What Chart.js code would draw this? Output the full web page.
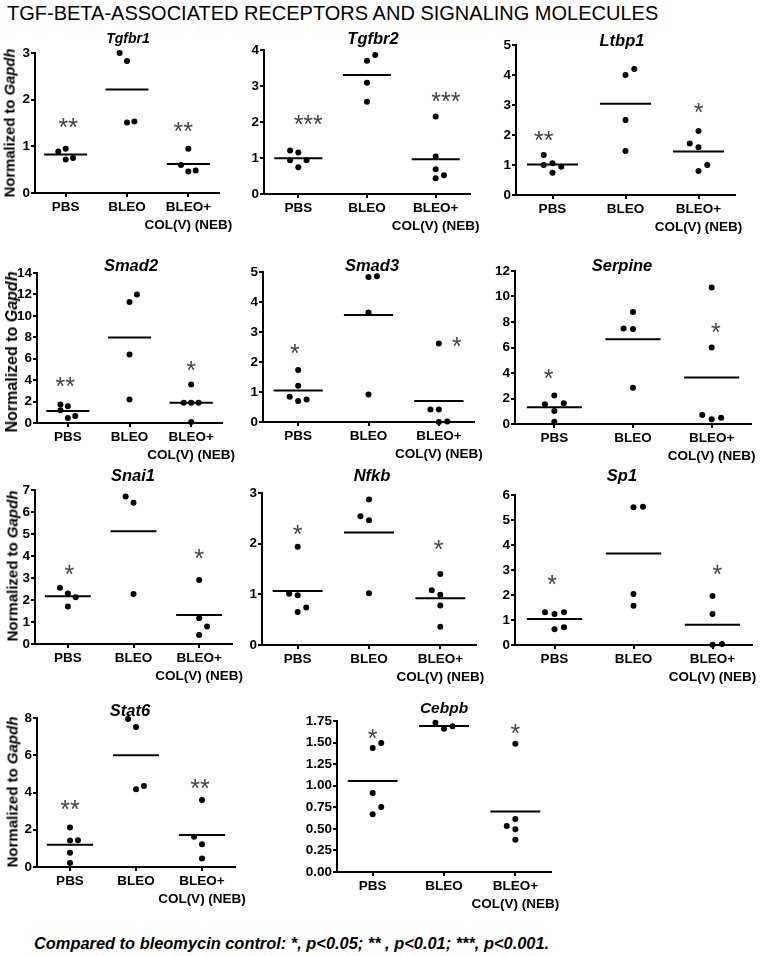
<!DOCTYPE html>
<html>
<head>
<meta charset="utf-8">
<title>TGF-beta associated receptors and signaling molecules</title>
<script src="https://cdn.jsdelivr.net/npm/chart.js@4.4.1/dist/chart.umd.min.js"></script>
<style>
  html, body { margin: 0; padding: 0; background: #fff; }
  body { position: relative; width: 776px; height: 956px; overflow: hidden;
         font-family: "Liberation Sans", Arial, sans-serif; color: #000; }
  canvas { position: absolute; }
  .txt { position: absolute; white-space: nowrap; line-height: 1; }
  #page-title { left: 7px; top: 2.5px; font-size: 20px; }
  .gene { font-weight: bold; font-style: italic; transform: translate(-50%, -50%); }
  .ylab { font-weight: bold; transform: translate(-50%, -50%) rotate(-90deg); }
  #note { left: 34px; top: 943px; font-weight: bold; font-style: italic; font-size: 16.4px; transform: translateY(-50%); }
</style>
</head>
<body>
<div id="page-title" class="txt">TGF-BETA-ASSOCIATED RECEPTORS AND SIGNALING MOLECULES</div>
<div id="note" class="txt">Compared to bleomycin control: *, p&lt;0.05; ** , p&lt;0.01; ***, p&lt;0.001.</div>
<script>
const FONT = '"Liberation Sans", Arial, sans-serif';
const groups = ['PBS', 'BLEO', ['BLEO+', 'COL(V) (NEB)']];

// values per group (PBS, BLEO, BLEO+COL(V)), dot side-shift in steps, significance marks
const tgfbr1 = [[0.89, 0.95, 0.72, 0.75], [3.00, 2.83, 1.51, 1.53], [0.95, 0.60, 0.46, 0.48]];
const tgfbr1Jitter = [[-1, 0, 0, 1], [-1, 0, 0, 1], [0, -1, 0, 1]];
const tgfbr1Stars = ['**', '', '**'];
const tgfbr1StarY = [1.53, null, 1.44];
const tgfbr1Ticks = [0, 1, 2, 3];

const tgfbr2 = [[1.21, 1.15, 0.94, 0.94, 0.74], [3.86, 3.70, 3.09, 2.56], [2.15, 1.04, 0.69, 0.44, 0.52]];
const tgfbr2Jitter = [[-1, 0, -1, 1, 0], [1, 0, 0, 0], [0, 0, 0, 0, 1]];
const tgfbr2Stars = ['***', '', '***'];
const tgfbr2StarY = [2.08, null, 2.72];
const tgfbr2Ticks = [0, 1, 2, 3, 4];

const ltbp1 = [[1.33, 1.00, 1.06, 0.94, 0.74], [4.00, 4.20, 2.50, 1.47], [2.13, 1.72, 1.59, 1.00, 0.80]];
const ltbp1Jitter = [[-1, -1, 0, 1, 0], [0, 1, 0, 0], [0, -1, 0, 1, 0]];
const ltbp1Stars = ['**', '', '*'];
const ltbp1StarY = [2.02, null, 2.94];
const ltbp1Ticks = [0, 1, 2, 3, 4, 5];

const smad2 = [[1.72, 1.56, 1.19, 0.47, 0.66], [11.3, 12.0, 6.4, 2.2], [3.6, 1.9, 1.9, 1.9, 0.1]];
const smad2Jitter = [[-1, 0, -1, 0, 1], [0, 1, 0, 0], [0, -1, 0, 1, 0]];
const smad2Stars = ['**', '', '*'];
const smad2StarY = [3.94, null, 5.47];
const smad2Ticks = [0, 2, 4, 6, 8, 10, 12, 14];

const smad3 = [[1.73, 1.21, 0.84, 0.70, 0.75], [4.83, 4.86, 3.65, 0.92], [2.62, 0.42, 0.42, 0.00, 0.02]];
const smad3Jitter = [[0, 0, -1, 0, 1], [0, 1, 0, 0], [0, -1, 0, 0, 1]];
const smad3Stars = ['*', '', '*'];
const smad3StarY = [2.48, null, 2.70];
const smad3Ticks = [0, 1, 2, 3, 4, 5];

const serpine = [[2.24, 1.54, 1.62, 1.02, 0.18], [8.79, 7.49, 7.46, 2.84], [10.7, 6.0, 0.70, 0.37, 0.50]];
const serpineJitter = [[0, -1, 1, 0, 0], [0, -1, 0, 0], [0, 0, -1, 0, 1]];
const serpineStars = ['*', '', '*'];
const serpineStarY = [4.02, null, 7.62];
const serpineTicks = [0, 2, 4, 6, 8, 10, 12];

const snai1 = [[2.56, 2.30, 2.12, 1.70], [6.70, 6.42, 2.27], [2.91, 1.17, 0.79, 0.41]];
const snai1Jitter = [[-1, 0, 1, 0], [-1, 0, 0], [0, 0, 1, 0]];
const snai1Stars = ['*', '', '*'];
const snai1StarY = [3.44, null, 4.17];
const snai1Ticks = [0, 1, 2, 3, 4, 5, 6, 7];

const nfkb = [[1.94, 1.01, 0.98, 0.74, 0.65], [2.87, 2.54, 2.46, 1.02], [1.40, 1.08, 0.99, 0.78, 0.36]];
const nfkbJitter = [[0, -1, 0, 1, 0], [0, -1, 0, 0], [0, -1, 0, 0, 0]];
const nfkbStars = ['*', '', '*'];
const nfkbStarY = [2.29, null, 2.00];
const nfkbTicks = [0, 1, 2, 3];

const sp1 = [[1.31, 1.24, 1.31, 0.63, 0.71], [5.51, 5.53, 2.04, 1.57], [1.96, 1.24, 0.01, 0.04]];
const sp1Jitter = [[-1, 0, 1, 0, 1], [0, 1, 0, 0], [0, 0, 0, 1]];
const sp1Stars = ['*', '', '*'];
const sp1StarY = [2.64, null, 3.07];
const sp1Ticks = [0, 1, 2, 3, 4, 5, 6];

const stat6 = [[2.12, 1.42, 1.44, 0.76, 0.22], [7.95, 7.52, 4.17, 4.35], [3.60, 1.62, 1.22, 0.45]];
const stat6Jitter = [[0, 0, 1, 0, 0], [-1, 0, 0, 1], [0, -1, 0, 0]];
const stat6Stars = ['**', '', '**'];
const stat6StarY = [3.38, null, 4.53];
const stat6Ticks = [0, 2, 4, 6, 8];

const cebpb = [[1.437, 1.495, 0.915, 0.753, 0.668], [1.73, 1.66, 1.69], [1.487, 0.614, 0.533, 0.494, 0.375]];
const cebpbJitter = [[0, 1, 0, 1, 0], [-1, 0, 1], [0, 0, -1, 0, 0]];
const cebpbStars = ['*', '', '*'];
const cebpbStarY = [1.61, null, 1.67];
const cebpbTicks = ['0.00', '0.25', '0.50', '0.75', '1.00', '1.25', '1.50', '1.75'];

const JITTER = 0.12;     // one side-step, in category widths
const HALF_MEAN = 0.35;  // half length of the mean bar
const STAR_SIZE = 25;

// plot area boxes [left, top, right, bottom] on the page, title centre + size, y label
const panels = [
  { gene: 'Tgfbr1', vals: tgfbr1, jit: tgfbr1Jitter, stars: tgfbr1Stars, starY: tgfbr1StarY, ticks: tgfbr1Ticks,
    starDx: [0.35, 0, -0.7], box: [35, 53, 219, 193], title: [128, 38, 14], ylab: [10, 123, 14.8] },
  { gene: 'Tgfbr2', vals: tgfbr2, jit: tgfbr2Jitter, stars: tgfbr2Stars, starY: tgfbr2StarY, ticks: tgfbr2Ticks,
    starDx: [1.2, 0, 1.25], box: [264, 50, 470, 194], title: [373, 38, 16.5] },
  { gene: 'Ltbp1', vals: ltbp1, jit: ltbp1Jitter, stars: ltbp1Stars, starY: ltbp1StarY, ticks: ltbp1Ticks,
    starDx: [-1, 0, 0], box: [516, 45, 735, 195], title: [622, 40, 16.5] },
  { gene: 'Smad2', vals: smad2, jit: smad2Jitter, stars: smad2Stars, starY: smad2StarY, ticks: smad2Ticks,
    starDx: [-0.35, 0, 0], box: [37, 273, 222, 423], title: [131, 265, 16.5], ylab: [12, 352, 16] },
  { gene: 'Smad3', vals: smad3, jit: smad3Jitter, stars: smad3Stars, starY: smad3StarY, ticks: smad3Ticks,
    starDx: [-0.4, 0, 2.15], box: [263, 272, 474, 422], title: [372, 265, 16.5] },
  { gene: 'Serpine', vals: serpine, jit: serpineJitter, stars: serpineStars, starY: serpineStarY, ticks: serpineTicks,
    starDx: [-0.6, 0, 0.45], box: [515, 271, 751, 424], title: [622, 265, 16.5] },
  { gene: 'Snai1', vals: snai1, jit: snai1Jitter, stars: snai1Stars, starY: snai1StarY, ticks: snai1Ticks,
    starDx: [0.2, 0, 0], box: [35, 490, 232, 644], title: [133, 475, 16.5], ylab: [12, 566, 15] },
  { gene: 'Nfkb', vals: nfkb, jit: nfkbJitter, stars: nfkbStars, starY: nfkbStarY, ticks: nfkbTicks,
    starDx: [0, 0, -0.2], box: [262, 493, 476, 645], title: [372, 475, 16.5] },
  { gene: 'Sp1', vals: sp1, jit: sp1Jitter, stars: sp1Stars, starY: sp1StarY, ticks: sp1Ticks,
    starDx: [-0.25, 0, 0.5], box: [515, 495, 752, 645], title: [622, 475, 16.5] },
  { gene: 'Stat6', vals: stat6, jit: stat6Jitter, stars: stat6Stars, starY: stat6StarY, ticks: stat6Ticks,
    starDx: [0, 0, -0.25], box: [37, 718, 235, 867], title: [130, 710, 16.5], ylab: [12, 792, 15] },
  { gene: 'Cebpb', vals: cebpb, jit: cebpbJitter, stars: cebpbStars, starY: cebpbStarY, ticks: cebpbTicks,
    starDx: [0, 0, 0], box: [337, 721, 551, 872], title: [444, 708, 15.5] }
];

// draws the significance asterisks above the groups
const starPlugin = {
  id: 'stars',
  afterDatasetsDraw(chart, args, opts) {
    const { ctx } = chart;
    const xs = chart.scales.x, ys = chart.scales.y;
    ctx.save();
    ctx.font = `${STAR_SIZE}px ${FONT}`;
    ctx.fillStyle = '#444';
    ctx.textAlign = 'center';
    ctx.textBaseline = 'alphabetic';
    opts.text.forEach((t, i) => {
      if (!t) return;
      const px = xs.getPixelForValue(i + opts.dx[i] * JITTER);
      const py = ys.getPixelForValue(opts.y[i]) + 0.57 * STAR_SIZE;
      ctx.fillText(t, px, py);
    });
    ctx.restore();
  }
};

Chart.defaults.font.family = FONT;
Chart.defaults.color = '#000';

function addText(cls, html, x, y, size) {
  const d = document.createElement('div');
  d.className = 'txt ' + cls;
  d.innerHTML = html;
  d.style.left = x + 'px';
  d.style.top = y + 'px';
  d.style.fontSize = size + 'px';
  document.body.appendChild(d);
}

panels.forEach(p => {
  const [L, T, R, B] = p.box;
  const padL = 34, padT = 12, padR = 48, padB = 46;
  const w = padL + (R - L) + padR;
  const h = padT + (B - T) + padB;
  const cv = document.createElement('canvas');
  cv.width = w; cv.height = h;
  cv.style.left = (L - padL) + 'px';
  cv.style.top = (T - padT) + 'px';
  cv.style.width = w + 'px';
  cv.style.height = h + 'px';
  document.body.appendChild(cv);

  const dots = [];
  p.vals.forEach((grp, g) => grp.forEach((v, k) => dots.push({ x: g + p.jit[g][k] * JITTER, y: v })));

  const means = [];
  p.vals.forEach((grp, g) => {
    const m = grp.reduce((a, b) => a + b, 0) / grp.length;
    means.push({ x: g - HALF_MEAN, y: m }, { x: g + HALF_MEAN, y: m }, { x: g + 0.5, y: null });
  });

  const tickVals = p.ticks.map(Number);
  const tickFont = { family: FONT, size: 13.5, weight: 'bold', lineHeight: 1.3 };

  new Chart(cv, {
    type: 'line',
    data: {
      datasets: [
        {
          data: dots,
          showLine: false,
          pointRadius: 3,
          pointBackgroundColor: '#000',
          pointBorderWidth: 0,
          clip: false
        },
        {
          data: means,
          borderColor: '#000',
          borderWidth: 2,
          pointRadius: 0,
          spanGaps: false,
          clip: false
        }
      ]
    },
    options: {
      responsive: false,
      animation: false,
      devicePixelRatio: 1,
      layout: { padding: { left: 0, top: padT, right: padR, bottom: 0 } },
      plugins: {
        legend: { display: false },
        tooltip: { enabled: false },
        stars: { text: p.stars, y: p.starY, dx: p.starDx }
      },
      scales: {
        x: {
          type: 'linear',
          min: -0.5,
          max: 2.5,
          afterBuildTicks: s => { s.ticks = groups.map((g, i) => ({ value: i })); },
          afterFit: s => { s.height = padB; },
          border: { display: true, color: '#000', width: 2 },
          grid: { drawOnChartArea: false, tickLength: 4, color: '#000', lineWidth: 2 },
          ticks: {
            callback: (v, i) => groups[i],
            color: '#000',
            font: tickFont,
            padding: 2,
            maxRotation: 0,
            autoSkip: false
          }
        },
        y: {
          min: tickVals[0],
          max: tickVals[tickVals.length - 1],
          afterBuildTicks: s => { s.ticks = tickVals.map(v => ({ value: v })); },
          afterFit: s => { s.width = padL; },
          border: { display: true, color: '#000', width: 2 },
          grid: { drawOnChartArea: false, tickLength: 4, color: '#000', lineWidth: 2 },
          ticks: {
            callback: (v, i) => String(p.ticks[i]),
            color: '#000',
            font: tickFont,
            padding: 1,
            autoSkip: false
          }
        }
      }
    },
    plugins: [starPlugin]
  });

  addText('gene', p.gene, p.title[0], p.title[1], p.title[2]);
  if (p.ylab) addText('ylab', 'Normalized to <i>Gapdh</i>', p.ylab[0], p.ylab[1], p.ylab[2]);
});
</script>
</body>
</html>
